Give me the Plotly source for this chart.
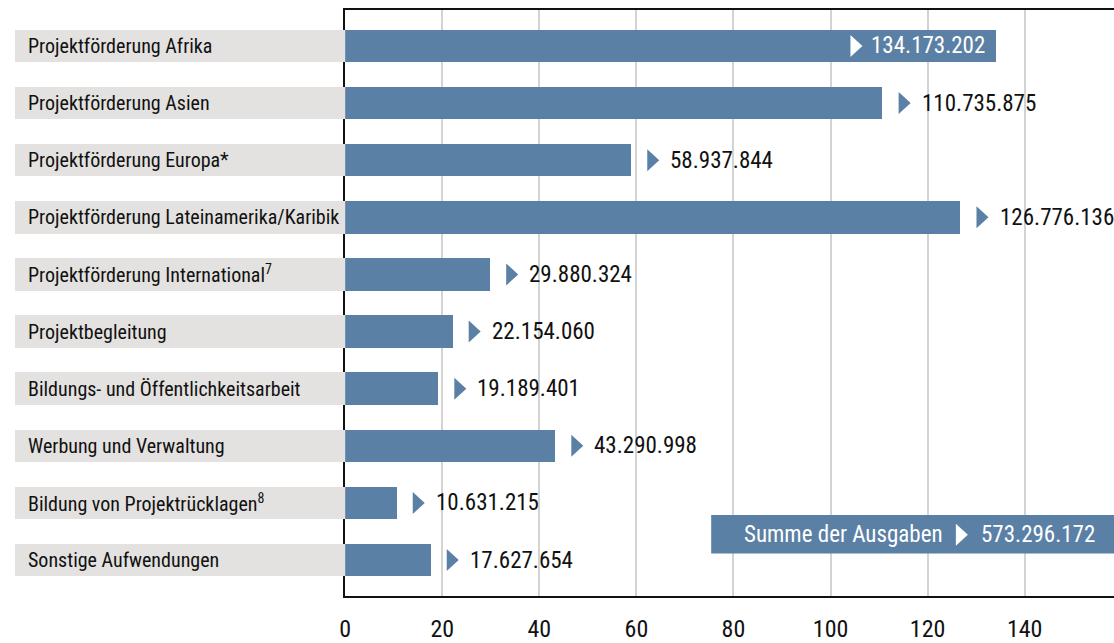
import plotly.graph_objects as go

categories = [
    "Projektförderung Afrika",
    "Projektförderung Asien",
    "Projektförderung Europa*",
    "Projektförderung Lateinamerika/Karibik",
    "Projektförderung International<sup>7</sup>",
    "Projektbegleitung",
    "Bildungs- und Öffentlichkeitsarbeit",
    "Werbung und Verwaltung",
    "Bildung von Projektrücklagen<sup>8</sup>",
    "Sonstige Aufwendungen",
]
values = [134173202, 110735875, 58937844, 126776136, 29880324,
          22154060, 19189401, 43290998, 10631215, 17627654]
tick_values = [0, 20, 40, 60, 80, 100, 120, 140]
total_label = "Summe der Ausgaben"
total_value = 573296172

BLUE = "#5b80a5"
GRAY = "#e3e2e0"
FONT = "Roboto Condensed, DejaVu Sans Condensed, sans-serif"
W, H = 1114, 643
PL, PT, PB = 341, 10, 40
XMAX = 158.4


def fmt(v):
    return f"{v:,}".replace(",", ".")


def tri_path(dx):
    return f"M{dx},-11 L{dx + 12},0 L{dx},11 Z"


xs = [v / 1e6 for v in values]

fig = go.Figure()
fig.add_trace(go.Bar(y=categories, x=[1] * len(categories), orientation="h",
                     marker=dict(color=GRAY, line=dict(width=0)), width=0.57,
                     xaxis="x2", yaxis="y", hoverinfo="skip", showlegend=False))
fig.add_trace(go.Bar(y=categories, x=xs, orientation="h",
                     marker=dict(color=BLUE, line=dict(width=0)), width=0.57,
                     xaxis="x", yaxis="y", showlegend=False))

annotations = []
shapes = []
for i, (cat, v, x) in enumerate(zip(categories, values, xs)):
    annotations.append(dict(x=20 / W, xref="paper", y=cat, yref="y", text=cat,
                            showarrow=False, xanchor="left", yanchor="middle",
                            font=dict(family=FONT, size=20, color="#111")))
    inside = x > 130
    if inside:
        shapes.append(dict(type="path", xref="x", yref="y", xsizemode="pixel",
                           ysizemode="pixel", xanchor=x, yanchor=i,
                           path=tri_path(-146), fillcolor="white",
                           line=dict(width=0)))
        annotations.append(dict(x=x, xref="x", y=cat, yref="y", text=fmt(v),
                                showarrow=False, xanchor="right", xshift=-9,
                                yanchor="middle",
                                font=dict(family=FONT, size=23, color="white")))
    else:
        shapes.append(dict(type="path", xref="x", yref="y", xsizemode="pixel",
                           ysizemode="pixel", xanchor=x, yanchor=i,
                           path=tri_path(16), fillcolor=BLUE,
                           line=dict(width=0)))
        annotations.append(dict(x=x, xref="x", y=cat, yref="y", text=fmt(v),
                                showarrow=False, xanchor="left", xshift=37,
                                yanchor="middle",
                                font=dict(family=FONT, size=23, color="#111")))

ph = H - PT - PB
ymid = (603 - 541) / ph
shapes.insert(0, dict(type="rect", xref="paper", yref="paper",
                      x0=709 / W, x1=1, y0=(603 - 560) / ph, y1=(603 - 521) / ph,
                      fillcolor=BLUE, line=dict(width=0), layer="above"))
shapes.append(dict(type="path", xref="paper", yref="paper", xsizemode="pixel",
                   ysizemode="pixel", xanchor=955 / W, yanchor=ymid,
                   path=tri_path(0), fillcolor="white", line=dict(width=0)))
annotations.append(dict(x=944 / W, xref="paper", y=ymid, yref="paper",
                        text=total_label, showarrow=False, xanchor="right",
                        yanchor="middle",
                        font=dict(family=FONT, size=23, color="white")))
annotations.append(dict(x=978 / W, xref="paper", y=ymid, yref="paper",
                        text=fmt(total_value), showarrow=False, xanchor="left",
                        yanchor="middle",
                        font=dict(family=FONT, size=23, color="white")))

fig.update_layout(
    width=W, height=H,
    margin=dict(l=0, r=0, t=PT, b=PB),
    paper_bgcolor="white", plot_bgcolor="white",
    bargap=0,
    xaxis=dict(domain=[PL / W, 1], range=[0, XMAX], tickvals=tick_values,
               showgrid=True, gridcolor="#d3d3d3", gridwidth=1.5,
               showline=True, linecolor="#111", linewidth=1.5, mirror=True,
               zeroline=False, ticks="", ticklabelstandoff=10,
               tickfont=dict(family=FONT, size=24, color="#111")),
    xaxis2=dict(domain=[9 / W, PL / W], range=[0, 1], visible=False,
                anchor="y"),
    yaxis=dict(type="category", range=[9.63, -0.63], showticklabels=False,
               showgrid=False, showline=True, linecolor="#111", linewidth=1.5,
               zeroline=False, ticks="", anchor="x"),
    annotations=annotations,
    shapes=shapes,
)

fig.write_html("out.html", config={"displayModeBar": False},
               post_script="document.body.style.margin='0';")
